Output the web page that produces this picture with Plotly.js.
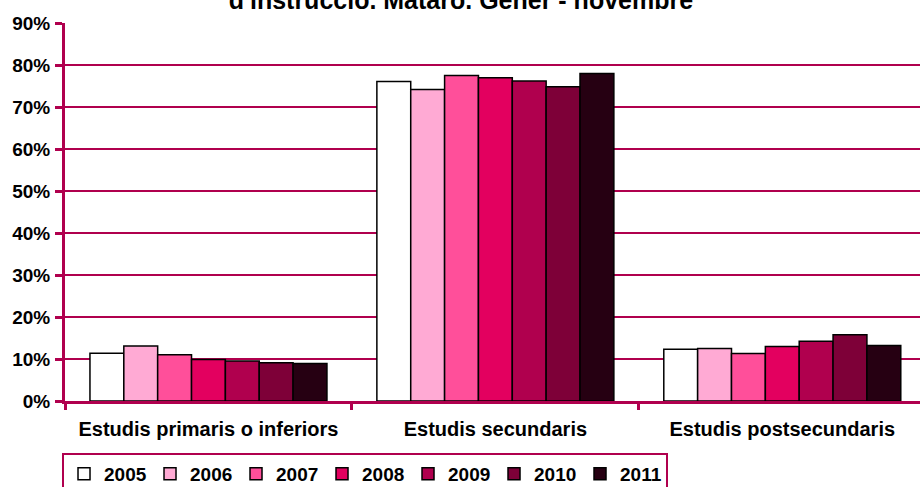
<!DOCTYPE html>
<html>
<head>
<meta charset="utf-8">
<script src="https://cdn.plot.ly/plotly-3.0.1.min.js"></script>
<style>html,body{margin:0;padding:0;background:#fff;}#chart{width:920px;height:487px;}</style>
</head>
<body>
<div id="chart"></div>
<script>
const categories = ["Estudis primaris o inferiors", "Estudis secundaris", "Estudis postsecundaris"];
const years = ["2005", "2006", "2007", "2008", "2009", "2010", "2011"];
const v2005 = [0.114, 0.761, 0.123];
const v2006 = [0.131, 0.742, 0.125];
const v2007 = [0.110, 0.775, 0.113];
const v2008 = [0.099, 0.770, 0.130];
const v2009 = [0.095, 0.762, 0.142];
const v2010 = [0.091, 0.748, 0.158];
const v2011 = [0.089, 0.780, 0.132];
const series = [v2005, v2006, v2007, v2008, v2009, v2010, v2011];
const colors = ["#FFFFFF", "#FFAAD4", "#FF4F9A", "#E3005F", "#B0004E", "#7E0038", "#260012"];
const titleText = "d'instrucció. Mataró. Gener - novembre";

const FONT = "Arial, 'Liberation Sans', sans-serif";
const AX = "#B0004E";

const traces = years.map((y, i) => ({
  type: "bar",
  name: y,
  x: categories,
  y: series[i],
  marker: {color: colors[i], line: {color: "#000000", width: 1.5}},
  hoverinfo: "skip"
}));

const layout = {
  width: 920, height: 487,
  margin: {l: 65, r: 0, t: 23, b: 86, pad: 0},
  paper_bgcolor: "#fff", plot_bgcolor: "#fff",
  font: {family: FONT, color: "#000", size: 17},
  title: {text: "<b>" + titleText + "</b>", x: 0.501, xanchor: "center", y: 1, yanchor: "middle", yref: "container",
          font: {family: FONT, size: 25, color: "#000"}, automargin: false},
  barmode: "group",
  bargap: 0.174,
  bargroupgap: 0,
  xaxis: {
    type: "category",
    range: [-0.5, 2.48],
    tickson: "boundaries",
    ticks: "outside", ticklen: 6, tickwidth: 3, tickcolor: AX,
    showline: true, linecolor: AX, linewidth: 3,
    showgrid: false, zeroline: false,
    automargin: false,
    tickfont: {family: FONT, size: 20, color: "#000", weight: "bold"},
    ticklabelstandoff: 8
  },
  yaxis: {
    range: [0, 0.9001],
    dtick: 0.1, tick0: 0,
    tickformat: ".0%",
    ticks: "outside", ticklen: 7, tickwidth: 3, tickcolor: AX,
    showline: true, linecolor: AX, linewidth: 3,
    showgrid: true, gridcolor: AX, gridwidth: 2,
    zeroline: false,
    automargin: false,
    tickfont: {family: FONT, size: 19, color: "#000", weight: "bold"},
    ticklabelstandoff: 1
  },
  showlegend: true,
  legend: {
    orientation: "h",
    xref: "container", yref: "container",
    x: 0.0674, xanchor: "left",
    y: 0.0698, yanchor: "top",
    bordercolor: AX, borderwidth: 2, bgcolor: "#fff",
    font: {family: FONT, size: 19, color: "#000", weight: "bold"},
    itemwidth: 30,
    entrywidth: 41,
    traceorder: "normal",
    tracegroupgap: 0
  }
};

Plotly.newPlot("chart", traces, layout, {displayModeBar: false, staticPlot: true});
</script>
</body>
</html>
